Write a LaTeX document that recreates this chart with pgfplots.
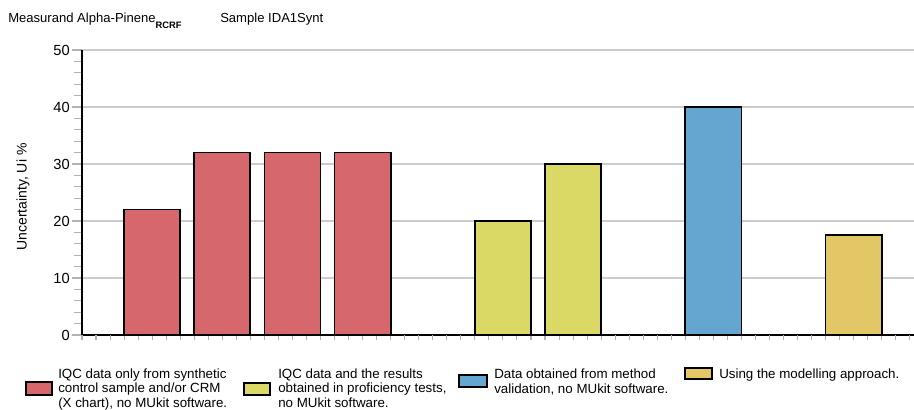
\documentclass[border=0pt]{standalone}
\usepackage{pgfplots}
\pgfplotsset{compat=1.18}
\usepackage{fontspec}
\setmainfont{Liberation Sans}
\definecolor{cred}{RGB}{213,103,109}
\definecolor{cyel}{RGB}{218,217,102}
\definecolor{cblu}{RGB}{101,166,208}
\definecolor{cgld}{RGB}{227,199,102}
\begin{document}
\begin{tikzpicture}
\path[use as bounding box] (0,0) rectangle (685.5pt,307.5pt);
\begin{axis}[
  at={(61.5pt,56.25pt)}, anchor=south west,
  scale only axis, width=624pt, height=213.75pt,
  xmin=0, xmax=11.86, ymin=0, ymax=50,
  axis x line*=bottom, axis y line*=left,
  axis line style={black, line width=1.3pt},
  xtick=\empty,
  extra x ticks={0,0.2,...,11.8},
  extra x tick labels={},
  extra x tick style={major tick length=3.75pt, tick style={gray!60, line width=0.8pt}, grid=none},
  ytick={0,10,...,50},
  minor y tick num=4,
  tick align=outside,
  major tick length=7.5pt, minor tick length=6pt,
  tick style={gray!60, line width=0.9pt},
  ymajorgrids,
  major grid style={gray!40, line width=1.2pt},
  /pgf/number format/assume math mode=true,
  yticklabel style={font=\fontsize{11}{13}\selectfont, inner sep=1.5pt},
  ylabel={Uncertainty, Ui \%},
  ylabel style={at={(axis description cs:-0.0709,0.484)}, anchor=center, font=\fontsize{10.5}{12}\selectfont},
  clip=false,
]
\addplot[ybar, bar width=0.8, bar shift=0pt, fill=cred, draw=black, line width=1.3pt] coordinates {(1,22) (2,32) (3,32) (4,32)};
\addplot[ybar, bar width=0.8, bar shift=0pt, fill=cyel, draw=black, line width=1.3pt] coordinates {(6,20) (7,30)};
\addplot[ybar, bar width=0.8, bar shift=0pt, fill=cblu, draw=black, line width=1.3pt] coordinates {(9,40)};
\addplot[ybar, bar width=0.8, bar shift=0pt, fill=cgld, draw=black, line width=1.3pt] coordinates {(11,17.5)};
\end{axis}
\begin{scope}[x=0.75pt, y=-0.75pt, yshift=307.5pt]
  \node[anchor=base west, inner sep=0pt, font=\fontsize{9.8}{12}\selectfont] at (8,23) {Measurand Alpha-Pinene\raisebox{-4.5pt}{\fontsize{7}{8}\selectfont\bfseries RCRF}};
  \node[anchor=base west, inner sep=0pt, font=\fontsize{9.8}{12}\selectfont] at (220,23) {Sample IDA1Synt};
  % legend
  \filldraw[fill=cred, draw=black, line width=1.3pt] (26,382) rectangle (52,395);
  \filldraw[fill=cyel, draw=black, line width=1.3pt] (244,383) rectangle (270,395);
  \filldraw[fill=cblu, draw=black, line width=1.3pt] (459,375) rectangle (487,387);
  \filldraw[fill=cgld, draw=black, line width=1.3pt] (685,368) rectangle (712,379);
  \begin{scope}[every node/.style={anchor=base west, inner sep=0pt, font=\fontsize{10}{12}\selectfont}]
    \node at (58,378.5) {IQC data only from synthetic};
    \node at (58,393) {control sample and/or CRM};
    \node at (58,407.2) {(X chart), no MUkit software.};
    \node at (278,378.5) {IQC data and the results};
    \node at (278,393) {obtained in proficiency tests,};
    \node at (278,407.2) {no MUkit software.};
    \node at (494,378.5) {Data obtained from method};
    \node at (494,393.5) {validation, no MUkit software.};
    \node at (719,378.5) {Using the modelling approach.};
  \end{scope}
\end{scope}
\end{tikzpicture}
\end{document}
